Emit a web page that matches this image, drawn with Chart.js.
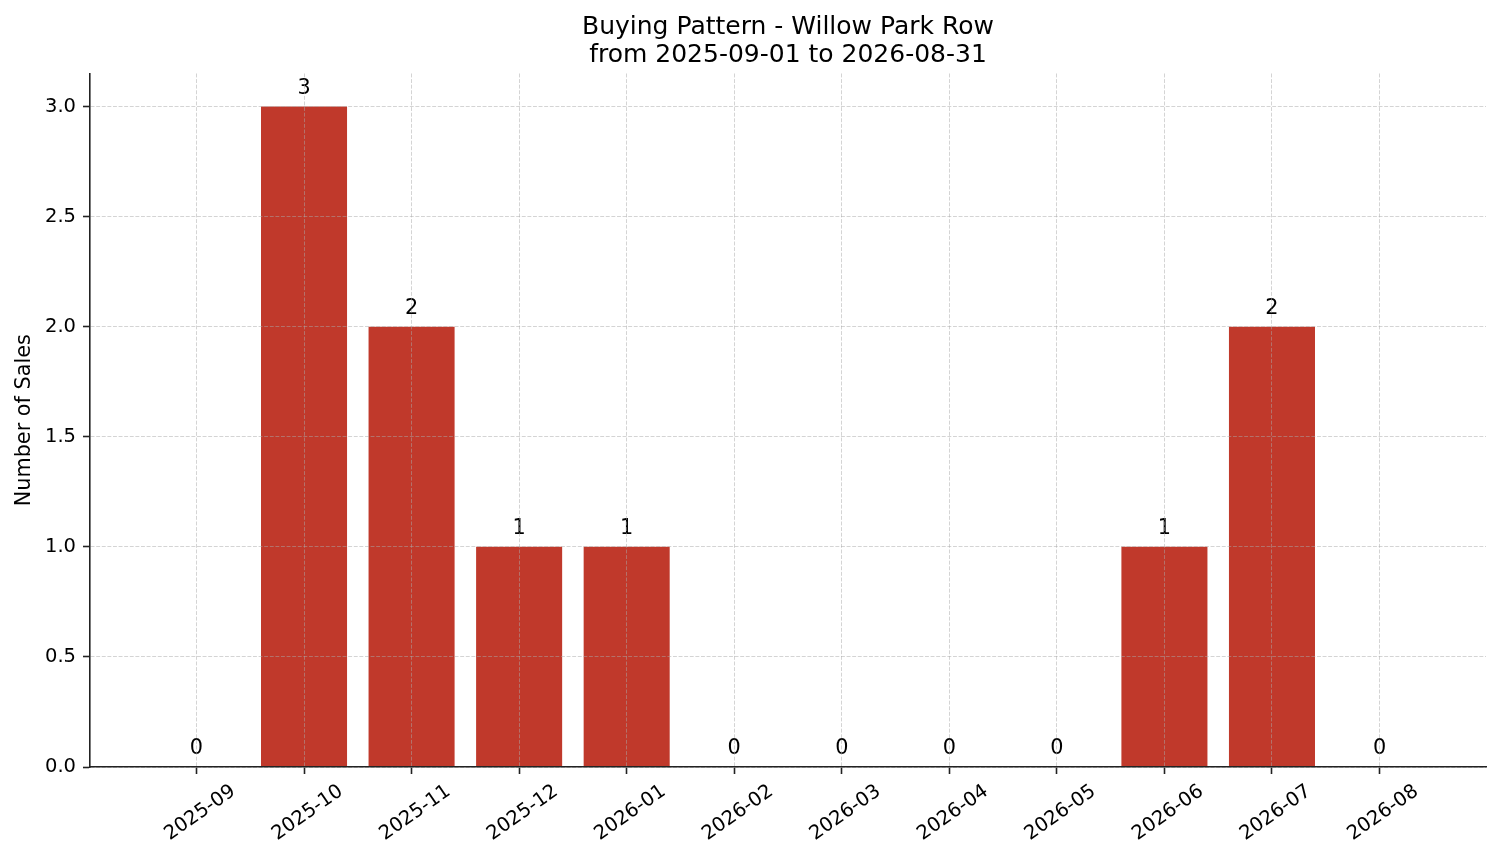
<!DOCTYPE html>
<html>
<head>
<meta charset="utf-8">
<script src="https://cdn.jsdelivr.net/npm/chart.js@4/dist/chart.umd.min.js"></script>
<style>
  html, body { margin: 0; padding: 0; background: #fff; }
  canvas { display: block; }
</style>
</head>
<body>
<canvas id="chart" width="1501" height="863"></canvas>
<script>
// --- data ---
const months = ['2025-09', '2025-10', '2025-11', '2025-12', '2026-01', '2026-02',
                '2026-03', '2026-04', '2026-05', '2026-06', '2026-07', '2026-08'];
const sales  = [0, 3, 2, 1, 1, 0, 0, 0, 0, 1, 2, 0];
const yTicks = [0, 0.5, 1.0, 1.5, 2.0, 2.5, 3.0];
const titleLines = ['Buying Pattern - Willow Park Row', 'from 2025-09-01 to 2026-08-31'];

const FONT = "'DejaVu Sans', 'Liberation Sans', sans-serif";
const barColor = '#c0392b';
const axisColor = '#222222';
const gridColor = 'rgba(170,170,170,0.5)';
const gridDash = [3.9, 1.7];

// value labels above each bar
const barLabels = {
    id: 'barLabels',
    afterDatasetsDraw(chart) {
        const ctx = chart.ctx;
        const meta = chart.getDatasetMeta(0);
        ctx.save();
        ctx.font = `20.8px ${FONT}`;
        ctx.fillStyle = '#000';
        ctx.textAlign = 'center';
        ctx.textBaseline = 'alphabetic';
        meta.data.forEach((bar, i) => {
            ctx.fillText(String(sales[i]), bar.x, bar.y - 13);
        });
        ctx.restore();
    }
};

// grid sits above the bars (as in the reference), axis line above the grid
const gridOpts = {
    z: 1,
    offset: false,
    color: gridColor,
    lineWidth: 1,
    drawTicks: true,
    tickLength: 7,
    tickWidth: 1.6,
    tickColor: axisColor,
    tickBorderDash: []
};
const borderOpts = { display: true, z: 2, color: axisColor, width: 1.6, dash: gridDash };

new Chart(document.getElementById('chart'), {
    type: 'bar',
    data: {
        datasets: [{
            label: 'Number of Sales',
            data: sales.map((v, i) => ({ x: i, y: v })),
            backgroundColor: barColor,
            borderWidth: 0,
            barPercentage: 1.0,
            categoryPercentage: 0.8
        }]
    },
    options: {
        responsive: false,
        devicePixelRatio: 1,
        animation: false,
        layout: { padding: { left: 0, right: 15, top: 0, bottom: 0 } },
        plugins: {
            legend: { display: false },
            tooltip: { enabled: false },
            title: {
                display: true,
                fullSize: false,
                text: titleLines,
                color: '#000',
                font: { family: FONT, size: 25, weight: 'normal', lineHeight: 1.12 },
                padding: { top: 13, bottom: 4.5 }
            }
        },
        scales: {
            x: {
                type: 'linear',
                position: 'bottom',
                offset: false,
                min: -0.99,
                max: 11.99,
                afterBuildTicks: scale => { scale.ticks = months.map((m, i) => ({ value: i })); },
                afterFit: scale => { scale.height = 96; },
                ticks: {
                    autoSkip: false,
                    minRotation: 35,
                    maxRotation: 35,
                    labelOffset: 37,
                    padding: 6,
                    color: '#000',
                    font: { family: FONT, size: 19.5 },
                    callback: v => months[v]
                },
                grid: gridOpts,
                border: borderOpts
            },
            y: {
                type: 'linear',
                position: 'left',
                min: 0,
                max: 3.15,
                afterBuildTicks: scale => { scale.ticks = yTicks.map(v => ({ value: v })); },
                afterFit: scale => { scale.width = 90; },
                ticks: {
                    padding: 7,
                    color: '#000',
                    font: { family: FONT, size: 19.5 },
                    callback: v => Number(v).toFixed(1)
                },
                title: {
                    display: true,
                    text: 'Number of Sales',
                    color: '#000',
                    font: { family: FONT, size: 20.8, lineHeight: 1.2 },
                    padding: { top: 12, bottom: 0 }
                },
                grid: gridOpts,
                border: borderOpts
            }
        }
    },
    plugins: [barLabels]
});
</script>
</body>
</html>
